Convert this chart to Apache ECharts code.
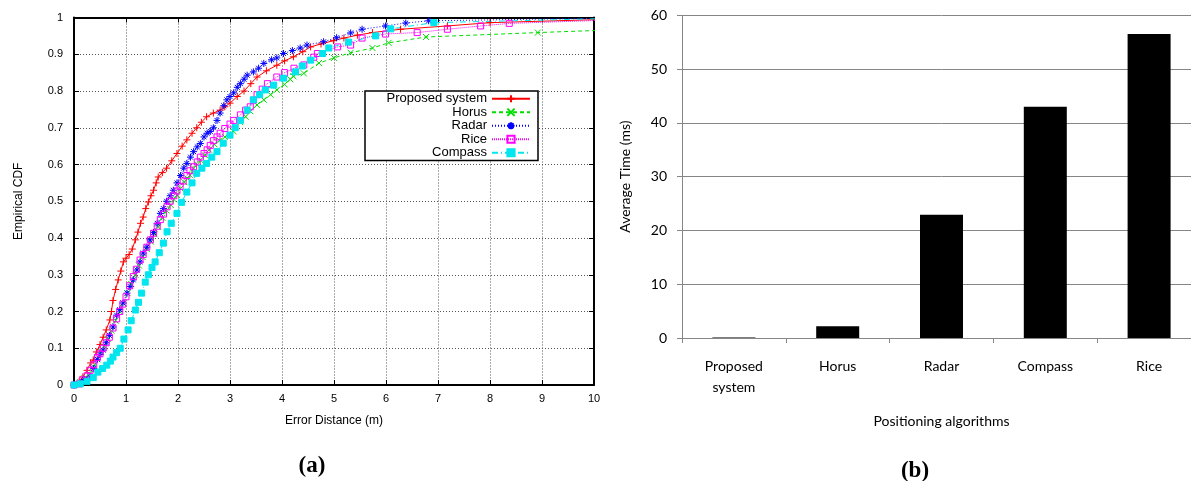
<!DOCTYPE html>
<html>
<head>
<meta charset="utf-8">
<script src="https://cdn.jsdelivr.net/npm/echarts@6/dist/echarts.min.js"></script>
<style>
html,body{margin:0;padding:0;background:#fff;overflow:hidden;width:1191px;height:481px;}
#chart{width:1203px;height:481px;}
</style>
</head>
<body>
<div id="chart"></div>
<script>
// ---------- Data: (a) Empirical CDF of error distance ----------
const seriesNames = ['Proposed system', 'Horus', 'Radar', 'Rice', 'Compass'];

const proposedCDF = [[0,0],[0.1,0.01],[0.17,0.022],[0.25,0.04],[0.32,0.06],[0.37,0.068],[0.43,0.09],[0.5,0.11],[0.56,0.13],[0.62,0.15],[0.69,0.177],[0.72,0.2],[0.75,0.23],[0.8,0.26],[0.85,0.286],[0.9,0.31],[0.95,0.335],[1.0,0.345],[1.06,0.355],[1.12,0.37],[1.18,0.395],[1.23,0.416],[1.28,0.44],[1.33,0.457],[1.38,0.48],[1.43,0.498],[1.48,0.515],[1.53,0.53],[1.58,0.55],[1.62,0.566],[1.7,0.578],[1.78,0.59],[1.88,0.61],[1.98,0.63],[2.08,0.65],[2.17,0.667],[2.27,0.685],[2.36,0.70],[2.45,0.715],[2.55,0.73],[2.68,0.74],[2.81,0.748],[2.9,0.757],[3.0,0.767],[3.14,0.785],[3.27,0.80],[3.4,0.82],[3.52,0.838],[3.7,0.855],[3.9,0.87],[4.05,0.882],[4.22,0.893],[4.4,0.907],[4.55,0.92],[4.75,0.928],[4.99,0.937],[5.19,0.944],[5.45,0.952],[5.74,0.959],[6.28,0.968],[7.18,0.977],[8.0,0.986],[10.5,0.996]];

const horusCDF = [[0,0],[0.12,0.008],[0.2,0.018],[0.3,0.03],[0.38,0.05],[0.45,0.07],[0.52,0.09],[0.58,0.105],[0.65,0.125],[0.72,0.148],[0.8,0.175],[0.88,0.2],[0.95,0.222],[1.03,0.25],[1.1,0.275],[1.18,0.3],[1.25,0.325],[1.32,0.348],[1.4,0.37],[1.48,0.39],[1.55,0.41],[1.62,0.43],[1.7,0.455],[1.78,0.475],[1.86,0.49],[1.92,0.505],[1.98,0.517],[2.05,0.535],[2.12,0.552],[2.18,0.562],[2.23,0.571],[2.3,0.59],[2.37,0.6],[2.43,0.612],[2.52,0.625],[2.6,0.64],[2.7,0.655],[2.8,0.665],[2.9,0.675],[3.0,0.683],[3.07,0.69],[3.2,0.715],[3.3,0.73],[3.39,0.745],[3.52,0.762],[3.65,0.776],[3.78,0.79],[3.9,0.803],[4.05,0.818],[4.16,0.832],[4.22,0.84],[4.42,0.848],[4.71,0.876],[5.0,0.89],[5.32,0.904],[5.74,0.917],[6.05,0.931],[6.77,0.947],[8.92,0.959],[10.5,0.967]];

const radarCDF = [[0,0],[0.12,0.005],[0.2,0.015],[0.31,0.022],[0.38,0.045],[0.45,0.07],[0.5,0.083],[0.56,0.095],[0.62,0.115],[0.68,0.135],[0.75,0.158],[0.82,0.19],[0.88,0.205],[0.94,0.223],[1.02,0.25],[1.08,0.268],[1.14,0.286],[1.21,0.313],[1.27,0.335],[1.33,0.359],[1.40,0.375],[1.46,0.395],[1.53,0.415],[1.6,0.44],[1.66,0.467],[1.72,0.48],[1.78,0.5],[1.85,0.515],[1.91,0.53],[1.98,0.55],[2.05,0.57],[2.11,0.59],[2.17,0.603],[2.24,0.62],[2.3,0.635],[2.37,0.648],[2.43,0.657],[2.5,0.675],[2.56,0.685],[2.62,0.69],[2.68,0.70],[2.75,0.72],[2.81,0.74],[2.88,0.76],[2.94,0.776],[3.0,0.785],[3.07,0.795],[3.14,0.81],[3.2,0.82],[3.27,0.832],[3.33,0.843],[3.45,0.852],[3.55,0.862],[3.65,0.875],[3.8,0.885],[3.9,0.89],[4.03,0.902],[4.2,0.91],[4.35,0.917],[4.48,0.925],[4.8,0.934],[5.05,0.945],[5.32,0.958],[5.54,0.968],[5.99,0.977],[6.38,0.985],[6.82,0.991],[10.5,0.999]];

const riceCDF = [[0,0],[0.1,0.003],[0.17,0.014],[0.25,0.025],[0.31,0.04],[0.38,0.055],[0.45,0.075],[0.5,0.085],[0.56,0.1],[0.62,0.115],[0.68,0.13],[0.75,0.155],[0.82,0.18],[0.88,0.2],[0.94,0.22],[1.0,0.24],[1.07,0.27],[1.14,0.295],[1.2,0.315],[1.27,0.34],[1.33,0.355],[1.4,0.375],[1.47,0.395],[1.53,0.413],[1.6,0.432],[1.66,0.45],[1.72,0.465],[1.79,0.485],[1.85,0.5],[1.92,0.515],[1.98,0.528],[2.04,0.54],[2.1,0.555],[2.17,0.57],[2.23,0.583],[2.3,0.594],[2.37,0.607],[2.43,0.62],[2.5,0.63],[2.56,0.64],[2.62,0.652],[2.68,0.665],[2.75,0.675],[2.81,0.685],[2.9,0.698],[3.0,0.71],[3.07,0.72],[3.2,0.735],[3.3,0.748],[3.39,0.757],[3.45,0.775],[3.52,0.79],[3.62,0.805],[3.72,0.82],[3.9,0.838],[4.05,0.85],[4.23,0.862],[4.42,0.871],[4.61,0.892],[4.68,0.902],[5.07,0.92],[5.32,0.925],[5.54,0.944],[5.99,0.955],[6.6,0.959],[7.18,0.968],[7.82,0.977],[8.37,0.984],[10.5,0.994]];

const compassCDF = [[0,0],[0.12,0.003],[0.25,0.01],[0.37,0.02],[0.46,0.035],[0.55,0.045],[0.63,0.054],[0.7,0.065],[0.75,0.076],[0.82,0.088],[0.89,0.1],[0.96,0.125],[1.04,0.15],[1.1,0.175],[1.18,0.204],[1.24,0.225],[1.3,0.25],[1.37,0.28],[1.43,0.3],[1.5,0.32],[1.56,0.335],[1.64,0.36],[1.72,0.386],[1.79,0.417],[1.87,0.44],[1.98,0.467],[2.07,0.497],[2.17,0.525],[2.27,0.55],[2.36,0.576],[2.46,0.59],[2.55,0.603],[2.65,0.62],[2.75,0.635],[2.87,0.658],[3.0,0.68],[3.1,0.7],[3.2,0.72],[3.33,0.748],[3.45,0.776],[3.57,0.79],[3.68,0.803],[3.84,0.816],[4.03,0.835],[4.26,0.852],[4.39,0.868],[4.55,0.884],[4.78,0.902],[4.9,0.917],[5.28,0.933],[5.8,0.95],[6.09,0.969],[6.92,0.986],[10.5,0.998]];

// ---------- Data: (b) Average time per algorithm ----------
const algorithms = ['Proposed system', 'Horus', 'Radar', 'Compass', 'Rice'];
const avgTimeMs = [0.1, 2.2, 22.9, 43.0, 56.5];

// ---------- Axis settings ----------
const distMin = 0, distMax = 10, distStep = 1;
const cdfMin = 0, cdfMax = 1, cdfStep = 0.1;
const timeMin = 0, timeMax = 60, timeStep = 10;

const SANS = '"Liberation Sans", Arial, sans-serif';
const CAL = 'Lato, "Open Sans", sans-serif';
const SERIF = '"Liberation Serif", "DejaVu Serif", serif';

const chart = echarts.init(document.getElementById('chart'), null, {renderer: 'canvas'});

const sym = {
  plus: 'path://M5,0L5,10M0,5L10,5',
  cross: 'path://M0,0L10,10M10,0L0,10',
  star: 'path://M5,0L5,10M0,5L10,5M1.5,1.5L8.5,8.5M8.5,1.5L1.5,8.5',
  square: 'path://M0,0L10,0L10,10L0,10Z'
};

function cdfSeries(name, data, color, lineType, symbol, size, fill) {
  return {
    name: name, type: 'line', xAxisIndex: 0, yAxisIndex: 0,
    data: data, symbol: symbol, symbolSize: size, showSymbol: true,
    clip: true, animation: false,
    lineStyle: {color: color, width: 1, type: lineType},
    itemStyle: {color: fill, borderColor: color, borderWidth: 1},
    emphasis: {disabled: true}
  };
}

const fmtCdf = v => (v === 0 ? '0' : (Math.abs(v - 1) < 1e-9 ? '1' : v.toFixed(1)));

const option = {
  animation: false,
  backgroundColor: '#fff',
  grid: [
    {left: 74, top: 17.5, width: 520, height: 367.5, containLabel: false},
    {left: 682, top: 15.3, width: 519, height: 322.7, containLabel: false}
  ],
  title: [
    {text: '(a)', left: 307, top: 450, textAlign: 'center',
     textStyle: {fontFamily: SERIF, fontWeight: 'bold', fontSize: 23, color: '#000'}},
    {text: '(b)', left: 910, top: 455, textAlign: 'center',
     textStyle: {fontFamily: SERIF, fontWeight: 'bold', fontSize: 23, color: '#000'}}
  ],
  legend: {
    data: seriesNames,
    orient: 'vertical',
    left: 365, top: 91,
    align: 'right',
    itemWidth: 38, itemHeight: 9, itemGap: 0,
    padding: [1, 7, 1, 3],
    backgroundColor: '#fff',
    borderColor: '#000', borderWidth: 1.5,
    textStyle: {fontFamily: SANS, fontSize: 13, color: '#000', width: 119, height: 13.5, align: 'right', lineHeight: 13.5},
    selectedMode: false
  },
  xAxis: [
    {type: 'value', gridIndex: 0, min: distMin, max: distMax, interval: distStep, position: 'bottom',
     name: 'Error Distance (m)', nameLocation: 'middle', nameGap: 30,
     nameTextStyle: {fontFamily: SANS, fontSize: 12, color: '#000'},
     axisLine: {show: true, onZero: false, lineStyle: {color: '#000', width: 2}},
     axisTick: {show: true, inside: true, length: 5, lineStyle: {color: '#000'}},
     axisLabel: {fontFamily: SANS, fontSize: 11, color: '#000', margin: 8},
     splitLine: {show: true, lineStyle: {color: '#555', type: [1, 2], width: 1}}},
    {type: 'value', gridIndex: 0, min: distMin, max: distMax, interval: distStep, position: 'top',
     axisLine: {show: true, onZero: false, lineStyle: {color: '#000', width: 2}},
     axisTick: {show: true, inside: true, length: 5, lineStyle: {color: '#000'}},
     axisLabel: {show: false}, splitLine: {show: false}},
    {type: 'category', gridIndex: 1, data: algorithms, position: 'bottom',
     name: 'Positioning algorithms', nameLocation: 'middle', nameGap: 76,
     nameTextStyle: {fontFamily: CAL, fontSize: 14, color: '#000'},
     axisLine: {show: true, lineStyle: {color: '#868686', width: 1}},
     axisTick: {show: true, length: 5, lineStyle: {color: '#868686'}},
     axisLabel: {fontFamily: CAL, fontSize: 14, color: '#000', margin: 18, lineHeight: 21,
       formatter: v => v.split(' ').join('\n')},
     splitLine: {show: false}}
  ],
  yAxis: [
    {type: 'value', gridIndex: 0, min: cdfMin, max: cdfMax, interval: cdfStep, position: 'left',
     name: 'Empirical CDF', nameLocation: 'middle', nameGap: 49, nameRotate: 90,
     nameTextStyle: {fontFamily: SANS, fontSize: 12, color: '#000'},
     axisLine: {show: true, onZero: false, lineStyle: {color: '#000', width: 2}},
     axisTick: {show: true, inside: true, length: 5, lineStyle: {color: '#000'}},
     axisLabel: {fontFamily: SANS, fontSize: 11, color: '#000', margin: 11, formatter: fmtCdf},
     splitLine: {show: true, lineStyle: {color: '#555', type: [1, 2], width: 1}}},
    {type: 'value', gridIndex: 0, min: cdfMin, max: cdfMax, interval: cdfStep, position: 'right',
     axisLine: {show: true, onZero: false, lineStyle: {color: '#000', width: 2}},
     axisTick: {show: true, inside: true, length: 5, lineStyle: {color: '#000'}},
     axisLabel: {show: false}, splitLine: {show: false}},
    {type: 'value', gridIndex: 1, min: timeMin, max: timeMax, interval: timeStep, position: 'left',
     name: 'Average Time (ms)', nameLocation: 'middle', nameGap: 50, nameRotate: 90,
     nameTextStyle: {fontFamily: CAL, fontSize: 14, color: '#000'},
     axisLine: {show: true, lineStyle: {color: '#868686', width: 1}},
     axisTick: {show: true, length: 5, lineStyle: {color: '#868686'}},
     axisLabel: {fontFamily: CAL, fontSize: 14, color: '#000', margin: 15},
     splitLine: {show: true, lineStyle: {color: '#868686', width: 1, type: 'solid'}}}
  ],
  series: [
    cdfSeries('Proposed system', proposedCDF, '#ff0000', 'solid', sym.plus, 7, '#ff0000'),
    cdfSeries('Horus', horusCDF, '#00dd00', [4, 3], sym.cross, 6, '#00dd00'),
    cdfSeries('Radar', radarCDF, '#0000ff', [1, 2], sym.star, 7, '#0000ff'),
    cdfSeries('Rice', riceCDF, '#ff00ff', [1, 1], sym.square, 6, 'rgba(255,0,255,0)'),
    cdfSeries('Compass', compassCDF, '#00e5ee', [6, 3, 1, 3], 'rect', 6, '#00e5ee'),
    {name: 'Average Time', type: 'bar', xAxisIndex: 2, yAxisIndex: 2, data: avgTimeMs,
     barWidth: 43, itemStyle: {color: '#000'}, animation: false, emphasis: {disabled: true}}
  ]
};
chart.setOption(option);
</script>
</body>
</html>
